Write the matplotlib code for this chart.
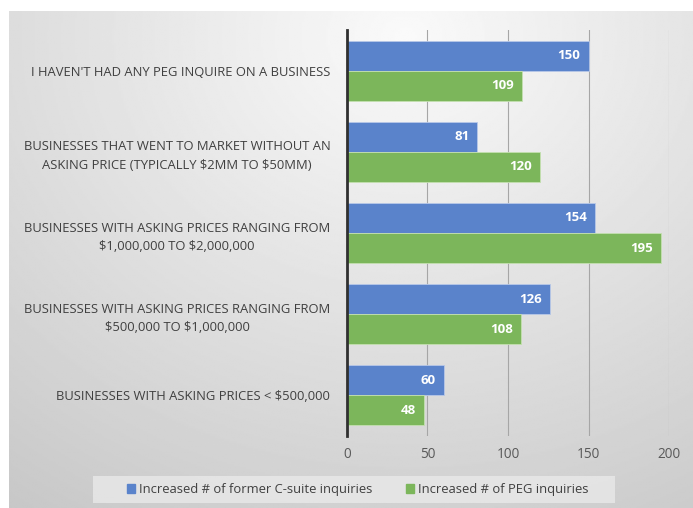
import numpy as np
import matplotlib.pyplot as plt
from matplotlib.patches import Patch, Rectangle

# categories, top to bottom
categories = [
    "I HAVEN'T HAD ANY PEG INQUIRE ON A BUSINESS",
    "BUSINESSES THAT WENT TO MARKET WITHOUT AN\nASKING PRICE (TYPICALLY $2MM TO $50MM)",
    "BUSINESSES WITH ASKING PRICES RANGING FROM\n$1,000,000 TO $2,000,000",
    "BUSINESSES WITH ASKING PRICES RANGING FROM\n$500,000 TO $1,000,000",
    "BUSINESSES WITH ASKING PRICES < $500,000",
]
csuite = [150, 81, 154, 126, 60]
peg = [109, 120, 195, 108, 48]
series_names = ["Increased # of former C-suite inquiries", "Increased # of PEG inquiries"]
xticks = [0, 50, 100, 150, 200]

blue = "#5a83cb"
green = "#7cb65b"

plt.rcParams["font.family"] = ["Open Sans", "DejaVu Sans"]
plt.rcParams["text.parse_math"] = False  # the $ signs are plain text

W, H = 693, 508
fig = plt.figure(figsize=(W / 100, H / 100), dpi=100)
fig.patch.set_facecolor("white")

# gradient backdrop of the chart area
bg = fig.add_axes([9 / W, 0, 1 - 9 / W, (H - 11) / H], zorder=-1)
yy, xx = np.mgrid[0:1:300j, 0:1:400j]
dist = np.sqrt(((xx - 0.58) * 1.0) ** 2 + ((yy - 0.05) * 0.85) ** 2)
shade = 0.98 - 0.2 * np.clip(dist, 0, 1.1)
bg.imshow(shade, cmap="gray", vmin=0, vmax=1, aspect="auto", extent=[0, 1, 1, 0])
bg.set_axis_off()

ax = fig.add_axes([347 / W, 1 - 436 / H, (669 - 347) / W, (436 - 30) / H])
ax.set_facecolor("none")

y = np.arange(len(categories))
h = 0.37
b1 = ax.barh(y - h / 2, csuite, height=h, color=blue, edgecolor="#b8c8e8", linewidth=0.6, zorder=3)
b2 = ax.barh(y + h / 2, peg, height=h, color=green, edgecolor="#c4e0b0", linewidth=0.6, zorder=3)

for bars in (b1, b2):
    for bar in bars:
        w = bar.get_width()
        ax.text(w - 5, bar.get_y() + bar.get_height() / 2, f"{int(w)}",
                ha="right", va="center", color="white", fontsize=9.5, fontweight="bold", zorder=4)

ax.set_xlim(0, 200)
ax.set_ylim(len(categories) - 0.5, -0.5)
ax.set_xticks(xticks)
ax.set_xticklabels([str(t) for t in xticks], color="#595959", fontsize=9.8)
ax.set_yticks(y)
ax.set_yticklabels(categories, color="#404040", fontsize=9.4, multialignment="center")
for lbl in ax.get_yticklabels():
    lbl.set_linespacing(1.55)
ax.tick_params(axis="y", length=0, pad=12)
ax.tick_params(axis="x", length=0, pad=8)
ax.grid(axis="x", color="#a6a6a6", linewidth=0.8, zorder=0)
for s in ["top", "right", "bottom"]:
    ax.spines[s].set_visible(False)
ax.spines["left"].set_color("#303030")
ax.spines["left"].set_linewidth(2)
ax.spines["left"].set_zorder(5)

# legend box behind the legend entries
fig.patches.append(Rectangle((93 / W, 1 - 503 / H), (615 - 93) / W, 27 / H,
                             transform=fig.transFigure, facecolor="#e9e9e9",
                             alpha=0.8, edgecolor="none", zorder=0))

handles = [Patch(color=blue), Patch(color=green)]
leg = fig.legend(handles, series_names, loc="center", bbox_to_anchor=(358 / W, 1 - 489.5 / H),
                 ncol=2, frameon=False, fontsize=9.4, handlelength=0.6, handleheight=0.6,
                 handletextpad=0.3, columnspacing=2.6, borderaxespad=0)
for t in leg.get_texts():
    t.set_color("#404040")

fig.savefig("out.png", dpi=100)
